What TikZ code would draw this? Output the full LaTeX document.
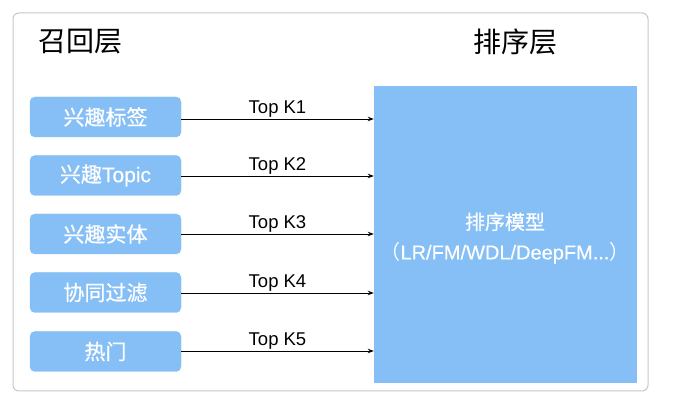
\documentclass[tikz,border=0pt]{standalone}
\usepackage{fontspec}
\setmainfont{Liberation Sans}
\newfontfamily\cjk{Noto Sans CJK SC}
\newfontfamily\cjkm[FakeBold=0.6]{Noto Sans CJK SC}
\newfontfamily\latm[FakeBold=0.4]{Liberation Sans}
\usetikzlibrary{arrows.meta}
\definecolor{boxblue}{HTML}{85BFF5}
\definecolor{framegray}{HTML}{C8C8C8}
\tikzset{
  recall/.style={draw=boxblue, fill=boxblue, rounded corners=5pt, minimum width=151pt, minimum height=40pt, inner sep=0pt, text=white, font=\fontsize{21}{24}\selectfont\cjkm},
  conn/.style={line width=0.9pt, -{Stealth[length=6pt,width=4.5pt]}},
  klabel/.style={font=\fontsize{18.5}{21}\selectfont, inner sep=1.5pt, anchor=south},
  title/.style={font=\fontsize{28}{32}\selectfont\cjk}
}
\begin{document}
\begin{tikzpicture}[x=1pt,y=-1pt]
\useasboundingbox (0,0) rectangle (678,403);
\fill[white] (0,0) rectangle (678,403);
\node[draw=framegray, line width=1pt, rounded corners=6pt, minimum width=635pt, minimum height=378pt, inner sep=0pt] (frame) at (330.5,202) {};
\node[title] (t1) at (80,42) {召回层};
\node[title] (t2) at (515,42) {排序层};
\node[draw=boxblue, fill=boxblue, minimum width=262pt, minimum height=296pt, inner sep=0pt, text=white, align=center, font=\fontsize{20}{30}\selectfont] (rank) at (505,234) {};
\node[text=white, align=center, font=\fontsize{20}{30}\selectfont] (ranktext) at (505,238) {{\cjkm 排序模型}\\{\cjk （}{\latm LR/FM/WDL/DeepFM...}{\cjk ）}};
\node[recall] (r1) at (105.5,117) {兴趣标签};
\node[recall] (r2) at (105.5,175.5) {兴趣{\latm Topic}};
\node[recall] (r3) at (105.5,234) {兴趣实体};
\node[recall] (r4) at (105.5,292.5) {协同过滤};
\node[recall] (r5) at (105.5,351.5) {热门};
\foreach \i/\y in {1/119,2/176,3/234,4/293,5/351}{
  \coordinate (e\i) at (rank.west |- 0,\y);
  \draw[conn] (r\i.east |- e\i) -- node[klabel] {Top K\i} (e\i);
}
\end{tikzpicture}
\end{document}
